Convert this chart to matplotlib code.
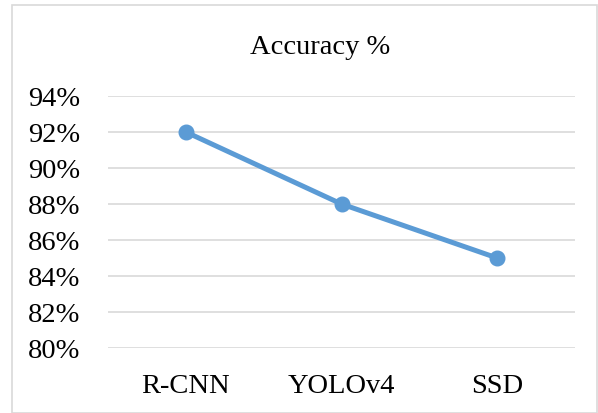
import matplotlib
matplotlib.use('Agg')
import matplotlib.pyplot as plt
from matplotlib.patches import Rectangle
from matplotlib.ticker import FuncFormatter

# Detection accuracy per model
models = ['R-CNN', 'YOLOv4', 'SSD']
accuracy = [92, 88, 85]
y_ticks = [80, 82, 84, 86, 88, 90, 92, 94]

plt.rcParams.update({
    'font.family': ['Liberation Serif', 'DejaVu Serif'],
    'font.size': 20.5,
})

W, H = 598, 414
fig = plt.figure(figsize=(W / 100, H / 100), dpi=100)

# chart frame
fig.patches.append(Rectangle((12 / W, 0), (597 - 12) / W, 1 - 6 / H,
                             transform=fig.transFigure, fill=False,
                             edgecolor='#D9D9D9', linewidth=1.2))

ax = fig.add_axes([108 / W, 1 - 349 / H, (575 - 108) / W, (349 - 97) / H])
x = range(len(models))
ax.plot(x, accuracy, color='#5B9BD5', linewidth=3.6, marker='o',
        markersize=10.5, solid_capstyle='round', zorder=3)

ax.set_xlim(-0.5, len(models) - 0.5)
ax.set_ylim(80, 94)
ax.set_xticks(list(x))
ax.set_xticklabels(models)
ax.set_yticks(y_ticks)
ax.yaxis.set_major_formatter(FuncFormatter(lambda v, _: f'{v:.0f}%'))
ax.tick_params(axis='both', length=0)
ax.tick_params(axis='y', pad=20)
ax.tick_params(axis='x', pad=18)
ax.grid(axis='y', color='#D9D9D9', linewidth=1.2)
ax.set_axisbelow(True)
for s in ax.spines.values():
    s.set_visible(False)

fig.text(320 / W, 1 - 48 / H, 'Accuracy %', ha='center', va='center')

fig.savefig('out.png', dpi=100)
